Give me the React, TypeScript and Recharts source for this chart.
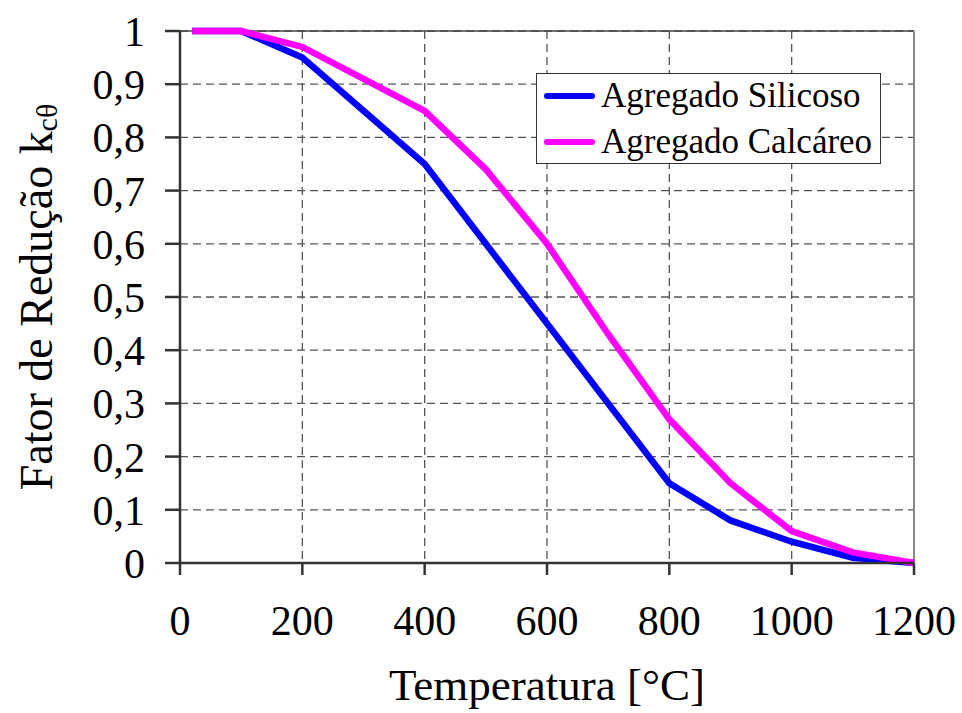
import { LineChart, Line, XAxis, YAxis, CartesianGrid, ReferenceLine, Label } from 'recharts';

const temps = [20, 100, 200, 300, 400, 500, 600, 700, 800, 900, 1000, 1100, 1200];
const siliceous = [1, 1, 0.95, 0.85, 0.75, 0.6, 0.45, 0.3, 0.15, 0.08, 0.04, 0.01, 0];
const calcareous = [1, 1, 0.97, 0.91, 0.85, 0.74, 0.6, 0.43, 0.27, 0.15, 0.06, 0.02, 0];
const xTicks = [0, 200, 400, 600, 800, 1000, 1200];
const yTicks = [0, 0.1, 0.2, 0.3, 0.4, 0.5, 0.6, 0.7, 0.8, 0.9, 1];
const seriesNames = ['Agregado Silicoso', 'Agregado Calcáreo'];
const seriesColors = ['#0000ff', '#ff00ff'];

const data = temps.map((t, i) => ({ t, sil: siliceous[i], cal: calcareous[i] }));

const FONT = '"Liberation Serif", "Times New Roman", serif';
const fmt = (v: number) => String(v).replace('.', ',');

const YTitle = (props: any) => {
  const vb = props.viewBox;
  const cx = 36;
  const cy = vb.y + vb.height / 2;
  return (
    <text
      x={cx}
      y={cy}
      transform={`rotate(-90, ${cx}, ${cy})`}
      textAnchor="middle"
      dominantBaseline="central"
      fontFamily={FONT}
      fontSize={46}
      fill="#000"
    >
      Fator de Redução k
      <tspan fontSize={30} dy={10}>cθ</tspan>
    </text>
  );
};

const XTitle = () => (
  <text x={547} y={700} textAnchor="middle" fontFamily={FONT} fontSize={45} fill="#000">
    Temperatura [°C]
  </text>
);

export default function App() {
  return (
    <div style={{ position: 'fixed', left: 0, top: 0, width: 962, height: 713, background: '#fff' }}>
      <LineChart width={962} height={713} data={data} margin={{ top: 31, right: 48, bottom: 90, left: 100 }}>
        <CartesianGrid stroke="#555" strokeDasharray="8 5" strokeWidth={1.3} />
        <XAxis
          dataKey="t"
          type="number"
          domain={[0, 1200]}
          ticks={xTicks}
          height={60}
          tickSize={12}
          tickMargin={30}
          stroke="#333"
          strokeWidth={2.5}
          tick={{ fontFamily: FONT, fontSize: 42, fill: '#000' }}
        >
          <Label content={XTitle} />
        </XAxis>
        <YAxis
          type="number"
          domain={[0, 1]}
          ticks={yTicks}
          width={80}
          tickSize={15}
          tickMargin={20}
          stroke="#333"
          strokeWidth={2.5}
          tickFormatter={fmt}
          tick={{ fontFamily: FONT, fontSize: 42, fill: '#000' }}
        >
          <Label content={YTitle} />
        </YAxis>
        <ReferenceLine y={1} stroke="#444" strokeWidth={1.5} />
        <ReferenceLine x={1200} stroke="#888" strokeWidth={2} />
        <Line dataKey="sil" stroke={seriesColors[0]} strokeWidth={6.5} dot={false} isAnimationActive={false} />
        <Line dataKey="cal" stroke={seriesColors[1]} strokeWidth={6.5} dot={false} isAnimationActive={false} />
      </LineChart>
      <div
        style={{
          position: 'absolute',
          left: 536,
          top: 73,
          width: 345,
          height: 91,
          border: '1.5px solid #333',
          background: '#fff',
          boxSizing: 'border-box',
          fontFamily: FONT,
          fontSize: 35,
        }}
      >
        {seriesNames.map((name, i) => (
          <div key={name} style={{ display: 'flex', alignItems: 'center', height: 44, marginTop: i === 0 ? 0 : 2 }}>
            <div style={{ width: 51, height: 6, borderRadius: 3, background: seriesColors[i], marginLeft: 7, marginRight: 6 }} />
            <span style={{ lineHeight: '44px' }}>{name}</span>
          </div>
        ))}
      </div>
    </div>
  );
}
